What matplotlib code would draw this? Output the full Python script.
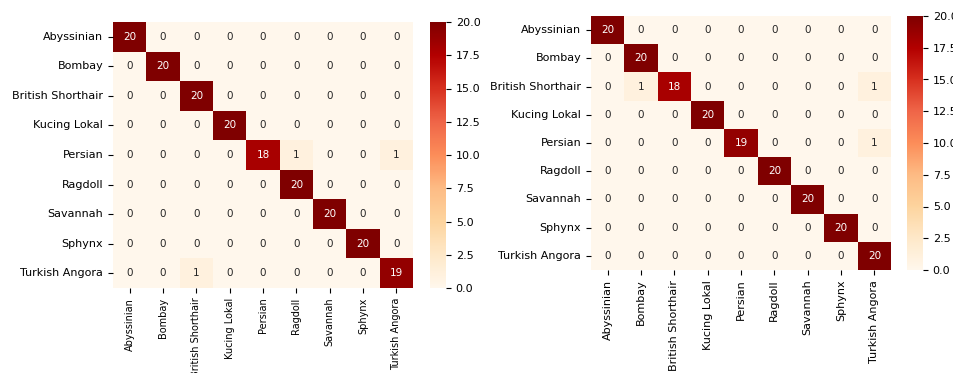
import numpy as np
import matplotlib
matplotlib.use('Agg')
import matplotlib.pyplot as plt
import seaborn as sns

# class names
labels = ['Abyssinian', 'Bombay', 'British Shorthair', 'Kucing Lokal', 'Persian',
          'Ragdoll', 'Savannah', 'Sphynx', 'Turkish Angora']

# confusion matrix, first model
cm_left = np.array([
    [20, 0, 0, 0, 0, 0, 0, 0, 0],
    [0, 20, 0, 0, 0, 0, 0, 0, 0],
    [0, 0, 20, 0, 0, 0, 0, 0, 0],
    [0, 0, 0, 20, 0, 0, 0, 0, 0],
    [0, 0, 0, 0, 18, 1, 0, 0, 1],
    [0, 0, 0, 0, 0, 20, 0, 0, 0],
    [0, 0, 0, 0, 0, 0, 20, 0, 0],
    [0, 0, 0, 0, 0, 0, 0, 20, 0],
    [0, 0, 1, 0, 0, 0, 0, 0, 19],
])

# confusion matrix, second model
cm_right = np.array([
    [20, 0, 0, 0, 0, 0, 0, 0, 0],
    [0, 20, 0, 0, 0, 0, 0, 0, 0],
    [0, 1, 18, 0, 0, 0, 0, 0, 1],
    [0, 0, 0, 20, 0, 0, 0, 0, 0],
    [0, 0, 0, 0, 19, 0, 0, 0, 1],
    [0, 0, 0, 0, 0, 20, 0, 0, 0],
    [0, 0, 0, 0, 0, 0, 20, 0, 0],
    [0, 0, 0, 0, 0, 0, 0, 20, 0],
    [0, 0, 0, 0, 0, 0, 0, 0, 20],
])

W, H = 954, 373
fig = plt.figure(figsize=(W / 100, H / 100), dpi=100)

def box(x0, y0, x1, y1):
    # pixel box -> figure fraction
    return [x0 / W, 1 - y1 / H, (x1 - x0) / W, (y1 - y0) / H]

# (matrix, heatmap box, colorbar box, x tick label size)
panels = [
    (cm_left, box(113, 22, 413, 288), box(430, 22, 446, 288), 7),
    (cm_right, box(591, 16, 891, 270), box(907, 16, 923, 270), 8),
]

for cm, ax_box, cb_box, xsize in panels:
    ax = fig.add_axes(ax_box)
    cax = fig.add_axes(cb_box)
    sns.heatmap(cm, annot=True, fmt='d', cmap='OrRd', ax=ax, cbar_ax=cax,
                xticklabels=labels, yticklabels=labels,
                annot_kws={'fontsize': 7.5})
    ax.tick_params(labelsize=8)
    ax.set_xticklabels(labels, rotation=90, fontsize=xsize)
    ax.set_yticklabels(labels, rotation=0)
    cax.tick_params(labelsize=8)

fig.savefig('out.png', dpi=100)
